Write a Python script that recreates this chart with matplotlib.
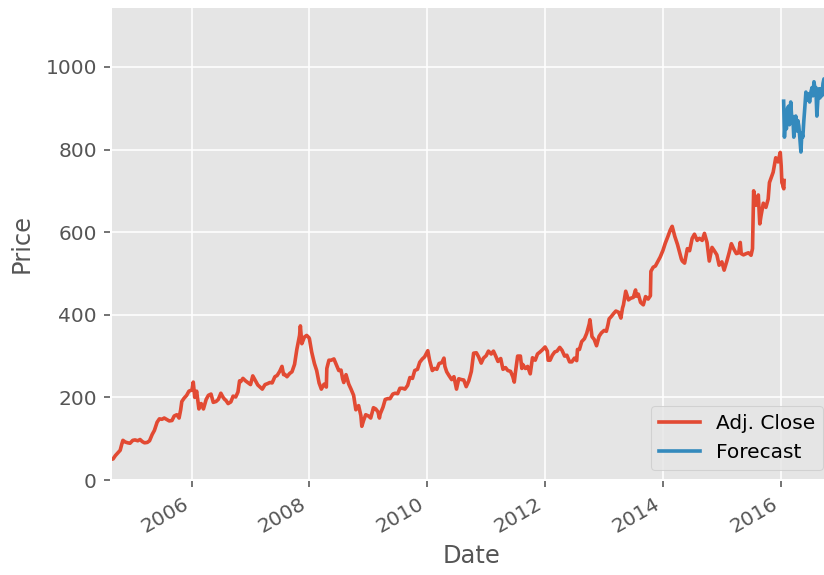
import matplotlib
matplotlib.use('Agg')
import matplotlib.pyplot as plt
import matplotlib.dates as mdates
import pandas as pd

plt.style.use('ggplot')

# adjusted close (roughly twice a month)
adj_dates = [
    '2004-08-19', '2004-09-01', '2004-09-15', '2004-10-01', '2004-10-15', '2004-10-25', '2004-11-01', '2004-11-15', '2004-12-01', '2004-12-15',
    '2005-01-01', '2005-01-15', '2005-02-01', '2005-02-15', '2005-03-01', '2005-03-15', '2005-04-01', '2005-04-15', '2005-05-01', '2005-05-15',
    '2005-06-01', '2005-06-15', '2005-07-01', '2005-07-15', '2005-08-01', '2005-08-15', '2005-09-01', '2005-09-15', '2005-10-01', '2005-10-15',
    '2005-10-25', '2005-11-01', '2005-11-15', '2005-12-01', '2005-12-15',
    '2006-01-03', '2006-01-11', '2006-01-20', '2006-02-01', '2006-02-15', '2006-03-01', '2006-03-15', '2006-04-01', '2006-04-15', '2006-05-01',
    '2006-05-15', '2006-06-01', '2006-06-15', '2006-07-01', '2006-07-15', '2006-07-25', '2006-08-01', '2006-08-15', '2006-09-01', '2006-09-15',
    '2006-10-01', '2006-10-15', '2006-10-25', '2006-11-01', '2006-11-15', '2006-12-01', '2006-12-15',
    '2007-01-01', '2007-01-15', '2007-02-01', '2007-02-15', '2007-03-01', '2007-03-15', '2007-04-01', '2007-04-15', '2007-05-01', '2007-05-15',
    '2007-06-01', '2007-06-15', '2007-07-01', '2007-07-15', '2007-07-25', '2007-08-01', '2007-08-15', '2007-09-01', '2007-09-15', '2007-10-01',
    '2007-10-15', '2007-11-01', '2007-11-06', '2007-11-15', '2007-12-01', '2007-12-15', '2007-12-28',
    '2008-01-01', '2008-01-15', '2008-02-01', '2008-02-15', '2008-03-01', '2008-03-15', '2008-04-01', '2008-04-15', '2008-04-18', '2008-05-01',
    '2008-05-15', '2008-06-01', '2008-06-15', '2008-07-01', '2008-07-15', '2008-07-25', '2008-08-01', '2008-08-15', '2008-09-01', '2008-09-15',
    '2008-10-01', '2008-10-15', '2008-11-01', '2008-11-15', '2008-11-21', '2008-12-01', '2008-12-15',
    '2009-01-01', '2009-01-15', '2009-02-01', '2009-02-15', '2009-03-01', '2009-03-10', '2009-03-15', '2009-04-01', '2009-04-15', '2009-05-01',
    '2009-05-15', '2009-06-01', '2009-06-15', '2009-07-01', '2009-07-15', '2009-08-01', '2009-08-15', '2009-09-01', '2009-09-15', '2009-10-01',
    '2009-10-15', '2009-11-01', '2009-11-15', '2009-12-01', '2009-12-15',
    '2010-01-04', '2010-01-15', '2010-02-01', '2010-02-15', '2010-03-01', '2010-03-15', '2010-04-01', '2010-04-14', '2010-04-20', '2010-05-01',
    '2010-05-15', '2010-06-01', '2010-06-15', '2010-07-01', '2010-07-15', '2010-08-01', '2010-08-15', '2010-08-30', '2010-09-15', '2010-10-01',
    '2010-10-15', '2010-11-01', '2010-11-15', '2010-12-01', '2010-12-15',
    '2011-01-01', '2011-01-15', '2011-02-01', '2011-02-15', '2011-03-01', '2011-03-15', '2011-04-01', '2011-04-15', '2011-05-01', '2011-05-15',
    '2011-06-01', '2011-06-15', '2011-06-24', '2011-07-01', '2011-07-15', '2011-08-01', '2011-08-10', '2011-08-15', '2011-09-01', '2011-09-15',
    '2011-10-01', '2011-10-15', '2011-11-01', '2011-11-15', '2011-12-01', '2011-12-15',
    '2012-01-01', '2012-01-15', '2012-01-20', '2012-02-01', '2012-02-15', '2012-03-01', '2012-03-15', '2012-04-01', '2012-04-15', '2012-05-01',
    '2012-05-15', '2012-06-01', '2012-06-15', '2012-07-01', '2012-07-15', '2012-07-20', '2012-08-01', '2012-08-15', '2012-09-01', '2012-09-15',
    '2012-10-01', '2012-10-05', '2012-10-18', '2012-11-01', '2012-11-15', '2012-12-01', '2012-12-15',
    '2013-01-01', '2013-01-15', '2013-01-25', '2013-02-01', '2013-02-15', '2013-03-01', '2013-03-15', '2013-04-01', '2013-04-15', '2013-04-25',
    '2013-05-01', '2013-05-15', '2013-06-01', '2013-06-15', '2013-07-01', '2013-07-15', '2013-07-19', '2013-08-01', '2013-08-15', '2013-09-01',
    '2013-09-15', '2013-10-01', '2013-10-15', '2013-10-18', '2013-11-01', '2013-11-15', '2013-12-01', '2013-12-15',
    '2014-01-01', '2014-01-15', '2014-02-01', '2014-02-15', '2014-02-27', '2014-03-15', '2014-04-01', '2014-04-15', '2014-04-25', '2014-05-01',
    '2014-05-15', '2014-06-01', '2014-06-15', '2014-07-01', '2014-07-15', '2014-08-01', '2014-08-15', '2014-09-01', '2014-09-15', '2014-10-01',
    '2014-10-15', '2014-11-01', '2014-11-15', '2014-12-01', '2014-12-15',
    '2015-01-01', '2015-01-15', '2015-02-01', '2015-02-15', '2015-03-01', '2015-03-15', '2015-04-01', '2015-04-15', '2015-04-25', '2015-05-01',
    '2015-05-15', '2015-06-01', '2015-06-15', '2015-07-01', '2015-07-10', '2015-07-17', '2015-08-01', '2015-08-15', '2015-08-24', '2015-09-01',
    '2015-09-15', '2015-10-01', '2015-10-15', '2015-10-23', '2015-11-01', '2015-11-15', '2015-12-01', '2015-12-15', '2015-12-29',
    '2016-01-04', '2016-01-08', '2016-01-13', '2016-01-15', '2016-01-20', '2016-01-22',
]
adj_close = [
    50, 51, 59, 66, 72, 87, 96, 92, 90, 89,
    96, 97, 95, 98, 93, 90, 91, 95, 110, 120,
    140, 148, 147, 150, 146, 143, 144, 155, 158, 150,
    170, 190, 198, 205, 215,
    218, 237, 200, 215, 172, 185, 172, 195, 205, 208,
    188, 190, 195, 210, 200, 195, 193, 185, 189, 203,
    201, 213, 240, 238, 246, 240, 236,
    231, 252, 240, 230, 225, 220, 231, 233, 236, 235,
    250, 253, 263, 275, 255, 256, 250, 258, 262, 280,
    316, 350, 373, 330, 346, 350, 345,
    342, 310, 282, 265, 235, 220, 232, 225, 270, 290,
    290, 293, 280, 265, 266, 245, 236, 255, 232, 220,
    205, 170, 180, 156, 130, 143, 158,
    155, 150, 175, 172, 165, 150, 160, 176, 195, 197,
    197, 208, 210, 209, 222, 222, 220, 229, 248, 246,
    265, 268, 285, 293, 298,
    313, 290, 265, 270, 268, 282, 284, 295, 275, 262,
    253, 243, 250, 220, 245, 243, 242, 226, 240, 263,
    307, 308, 298, 283, 295,
    301, 312, 305, 312, 300, 287, 294, 268, 272, 265,
    263, 250, 237, 260, 300, 300, 270, 280, 270, 275,
    257, 296, 290, 305, 310, 315,
    322, 312, 290, 290, 302, 310, 312, 321, 314, 300,
    302, 286, 286, 295, 289, 316, 316, 335, 342, 355,
    378, 388, 347, 340, 325, 348, 356,
    362, 360, 376, 390, 396, 403, 409, 406, 392, 416,
    424, 457, 436, 440, 442, 460, 445, 450, 430, 424,
    444, 438, 446, 505, 515, 518, 530, 540,
    556, 573, 590, 605, 614, 590, 570, 550, 535, 530,
    525, 560, 555, 585, 595, 580, 585, 580, 597, 575,
    530, 563, 555, 545, 520,
    528, 508, 530, 550, 572, 560, 548, 550, 575, 548,
    545, 548, 550, 544, 560, 700, 665, 690, 620, 640,
    670, 660, 680, 720, 730, 745, 780, 770, 793,
    760, 720, 715, 710, 705, 725,
]

forecast_dates = [
    '2016-01-19', '2016-01-24', '2016-01-30', '2016-02-05', '2016-02-12', '2016-02-19', '2016-02-24', '2016-03-03', '2016-03-10', '2016-03-16',
    '2016-03-22', '2016-03-28', '2016-04-03', '2016-04-10', '2016-04-16', '2016-04-22', '2016-04-28', '2016-05-05', '2016-05-11', '2016-05-17',
    '2016-05-23', '2016-05-29', '2016-06-05', '2016-06-12', '2016-06-20', '2016-06-28', '2016-07-06', '2016-07-13', '2016-07-19', '2016-07-25',
    '2016-08-01', '2016-08-06', '2016-08-12', '2016-08-18', '2016-08-25', '2016-08-31', '2016-09-06', '2016-09-12', '2016-09-19', '2016-09-25',
    '2016-10-01', '2016-10-07', '2016-10-14', '2016-10-20', '2016-10-26', '2016-11-08', '2016-11-20',
]
forecast_vals = [
    917, 830, 875, 850, 900, 905, 860, 915, 870, 880,
    830, 860, 881, 845, 870, 857, 830, 794, 840, 830,
    869, 900, 939, 920, 935, 915, 939, 950, 930, 964,
    945, 950, 881, 920, 947, 925, 947, 930, 960, 971,
    950, 975, 990, 975, 995, 985, 1000,
]

df = pd.DataFrame({'Adj. Close': adj_close}, index=pd.to_datetime(adj_dates))
fc = pd.Series(forecast_vals, index=pd.to_datetime(forecast_dates), name='Forecast')

dpi = 145
fig = plt.figure(figsize=(825 / dpi, 575 / dpi), dpi=dpi)
# the right edge of the axes runs a little past the picture, as in the original crop
ax = fig.add_axes([111 / 825, 95 / 575, 722 / 825, 473 / 575])

ax.plot(df.index, df['Adj. Close'], label='Adj. Close', linewidth=1.8)
ax.plot(fc.index, fc.values, label='Forecast', linewidth=1.8)

ax.set_xlim(df.index[0], fc.index[-1])
ax.set_ylim(0, 1145)
ax.xaxis.set_major_locator(mdates.YearLocator(2))
ax.xaxis.set_major_formatter(mdates.DateFormatter('%Y'))
for lbl in ax.get_xticklabels():
    lbl.set_rotation(30)
    lbl.set_ha('right')

ax.set_xlabel('Date')
ax.set_ylabel('Price', labelpad=6)
ax.legend(loc='lower right')

fig.savefig('out.png', dpi=dpi)
